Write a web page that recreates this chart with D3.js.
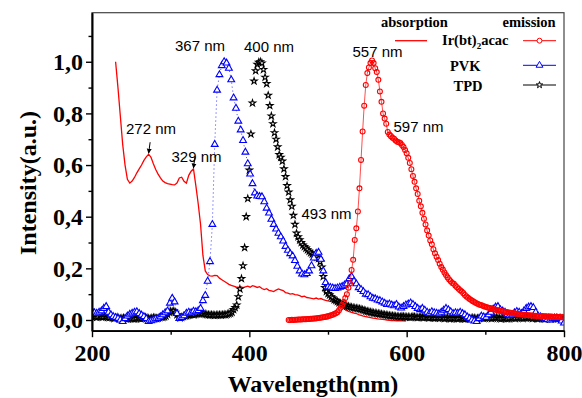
<!DOCTYPE html>
<html>
<head>
<meta charset="utf-8">
<script src="https://cdn.jsdelivr.net/npm/d3@7"></script>
<style>
  body { margin: 0; background: #fff; }
  svg { display: block; }
  .tick text { font-family: "Liberation Serif", "Times New Roman", serif; font-weight: bold; font-size: 24px; fill: #000; }
  .ann { font-family: "Liberation Sans", Arial, sans-serif; font-size: 15px; fill: #000; }
  .leg { font-family: "Liberation Serif", "Times New Roman", serif; font-weight: bold; font-size: 14.5px; fill: #000; }
  .title { font-family: "Liberation Serif", "Times New Roman", serif; font-weight: bold; font-size: 24px; fill: #000; }
</style>
</head>
<body>
<svg id="chart" width="582" height="398"></svg>
<script>
// absorption of Ir(bt)2acac, 230..599 nm every 3 nm
let absStart = 230, absStep = 3;
let absValues = [
  1.00, 0.90, 0.79, 0.68, 0.60, 0.545, 0.53, 0.538, 0.552, 0.57,
  0.585, 0.60, 0.618, 0.632, 0.642, 0.63, 0.605, 0.583, 0.565, 0.55,
  0.538, 0.532, 0.528, 0.526, 0.524, 0.523, 0.53, 0.55, 0.553, 0.537,
  0.53, 0.56, 0.576, 0.585, 0.52, 0.45, 0.37, 0.25, 0.19, 0.176,
  0.171, 0.17, 0.173, 0.172, 0.162, 0.156, 0.15, 0.144, 0.138, 0.134,
  0.131, 0.128, 0.126, 0.129, 0.125, 0.128, 0.131, 0.127, 0.133, 0.13,
  0.126, 0.129, 0.122, 0.118, 0.121, 0.115, 0.113, 0.11, 0.116, 0.12,
  0.117, 0.114, 0.106, 0.104, 0.10, 0.102, 0.098, 0.097, 0.094, 0.09,
  0.092, 0.087, 0.086, 0.084, 0.082, 0.085, 0.081, 0.083, 0.079, 0.076,
  0.074, 0.072, 0.07, 0.066, 0.061, 0.056, 0.05, 0.042, 0.036, 0.032,
  0.029, 0.027, 0.025, 0.021, 0.018, 0.015, 0.013, 0.011, 0.009, 0.007,
  0.006, 0.004, 0.003, 0.002, 0.001, 0.0, -0.001, -0.002, -0.002, -0.003,
  -0.002, -0.003, -0.003, -0.004
];

// emission of PVK, 200..800 nm every 3 nm
let pvkStart = 200, pvkStep = 3;
let pvkValues = [
  0.035, 0.028, 0.026, 0.03, 0.035, 0.045, 0.052, 0.03, 0.02, 0.013,
  0.01, 0.006, 0.0, -0.006, 0.005, 0.015, 0.022, 0.026, 0.03, 0.032,
  0.025, 0.019, 0.013, 0.005, -0.006, -0.003, 0.0, 0.004, 0.006, 0.012,
  0.02, 0.028, 0.035, 0.065, 0.084, 0.07, 0.025, 0.006, 0.01, 0.016,
  0.026, 0.03, 0.028, 0.034, 0.032, 0.036, 0.045, 0.075, 0.095, 0.15,
  0.226, 0.37, 0.68, 0.89, 0.95, 0.985, 1.0, 0.995, 0.975, 0.93,
  0.86, 0.82, 0.77, 0.736, 0.695, 0.65, 0.605, 0.565, 0.528, 0.492,
  0.48, 0.478, 0.477, 0.458, 0.433, 0.414, 0.39, 0.37, 0.352, 0.336,
  0.322, 0.306, 0.285, 0.27, 0.257, 0.248, 0.23, 0.208, 0.19, 0.178,
  0.175, 0.18, 0.19, 0.21, 0.24, 0.258, 0.262, 0.235, 0.19, 0.145,
  0.128, 0.126, 0.124, 0.122, 0.124, 0.127, 0.13, 0.135, 0.14, 0.16,
  0.168, 0.15, 0.14, 0.125, 0.118, 0.11, 0.10, 0.098, 0.09, 0.084,
  0.082, 0.077, 0.075, 0.07, 0.065, 0.06, 0.062, 0.058, 0.055, 0.06,
  0.05, 0.046, 0.052, 0.058, 0.062, 0.066, 0.06, 0.052, 0.045, 0.04,
  0.045, 0.038, 0.03, 0.026, 0.032, 0.028, 0.026, 0.024, 0.03, 0.038,
  0.045, 0.04, 0.032, 0.025, 0.028, 0.026, 0.03, 0.025, 0.02, 0.012,
  0.006, 0.0, -0.004, -0.006, 0.005, 0.015, 0.012, 0.01, 0.02, 0.03,
  0.042, 0.05, 0.052, 0.04, 0.035, 0.03, 0.022, 0.018, 0.02, 0.028,
  0.033, 0.03, 0.025, 0.035, 0.045, 0.05, 0.052, 0.048, 0.03, 0.015,
  0.012, 0.008, 0.006, 0.002, 0.0, 0.004, 0.006, 0.008, 0.005, -0.004,
  -0.012
];

// emission of TPD, 200..800 nm every 2 nm
let tpdStart = 200, tpdStep = 2;
let tpdValues = [
  0.012, 0.014, 0.012, 0.010, 0.013, 0.015, 0.012, 0.011, 0.013, 0.012,
  0.010, 0.009, 0.011, 0.008, 0.006, 0.008, 0.010, 0.007, 0.005, 0.006,
  0.008, 0.006, 0.004, 0.005, 0.007, 0.006, 0.005, 0.004, 0.006, 0.008,
  0.007, 0.005, 0.006, 0.008, 0.010, 0.008, 0.006, 0.005, 0.007, 0.009,
  0.008, 0.006, 0.007, 0.009, 0.011, 0.010, 0.012, 0.015, 0.022, 0.030,
  0.034, 0.032, 0.035, 0.030, 0.020, 0.012, 0.008, 0.010, 0.013, 0.015,
  0.016, 0.018, 0.020, 0.022, 0.021, 0.020, 0.022, 0.024, 0.025, 0.026,
  0.025, 0.024, 0.022, 0.021, 0.020, 0.019, 0.020, 0.019, 0.018, 0.019,
  0.019, 0.020, 0.019, 0.020, 0.021, 0.020, 0.022, 0.024, 0.026, 0.030,
  0.040, 0.048, 0.058, 0.090, 0.120, 0.160, 0.210, 0.280, 0.400, 0.470,
  0.580, 0.720, 0.840, 0.925, 0.965, 0.990, 0.998, 1.000, 0.995, 0.970,
  0.940, 0.915, 0.870, 0.830, 0.790, 0.760, 0.725, 0.700, 0.670, 0.640,
  0.630, 0.615, 0.585, 0.555, 0.520, 0.495, 0.465, 0.440, 0.405, 0.370,
  0.336, 0.322, 0.310, 0.300, 0.290, 0.284, 0.278, 0.272, 0.266, 0.260,
  0.255, 0.250, 0.247, 0.243, 0.238, 0.225, 0.205, 0.168, 0.125, 0.110,
  0.102, 0.097, 0.090, 0.085, 0.078, 0.075, 0.071, 0.067, 0.064, 0.061,
  0.059, 0.056, 0.054, 0.052, 0.050, 0.049, 0.047, 0.046, 0.045, 0.044,
  0.043, 0.041, 0.039, 0.037, 0.035, 0.033, 0.032, 0.030, 0.029, 0.027,
  0.026, 0.025, 0.024, 0.023, 0.022, 0.021, 0.020, 0.019, 0.018, 0.017,
  0.016, 0.016, 0.015, 0.014, 0.013, 0.013, 0.012, 0.014, 0.013, 0.012,
  0.011, 0.012, 0.010, 0.011, 0.013, 0.012, 0.010, 0.009, 0.011, 0.012,
  0.010, 0.009, 0.011, 0.010, 0.008, 0.009, 0.010, 0.008, 0.007, 0.009,
  0.008, 0.007, 0.009, 0.008, 0.006, 0.007, 0.008, 0.006, 0.005, 0.007,
  0.006, 0.007, 0.005, 0.006, 0.008, 0.007, 0.005, 0.004, 0.006, 0.007,
  0.005, 0.006, 0.008, 0.007, 0.005, 0.006, 0.007, 0.009, 0.008, 0.006,
  0.007, 0.009, 0.010, 0.008, 0.006, 0.007, 0.009, 0.010, 0.008, 0.006,
  0.005, 0.007, 0.008, 0.006, 0.005, 0.006, 0.008, 0.009, 0.007, 0.006,
  0.008, 0.010, 0.009, 0.007, 0.006, 0.008, 0.010, 0.011, 0.009, 0.007,
  0.006, 0.008, 0.007, 0.005, 0.006, 0.008, 0.007, 0.005, 0.004, 0.006,
  0.007, 0.005, 0.004, 0.006, 0.008, 0.007, 0.005, 0.006, 0.007, 0.005,
  0.004
];

// emission of Ir(bt)2acac, 450..800 nm every 2 nm
let irStart = 450, irStep = 2;
let irValues = [
  0.0, 0.0, 0.001, 0.0, 0.001, 0.001, 0.002, 0.002, 0.002, 0.003,
  0.003, 0.003, 0.004, 0.004, 0.005, 0.005, 0.006, 0.006, 0.007, 0.008,
  0.009, 0.01, 0.011, 0.012, 0.013, 0.014, 0.016, 0.018, 0.02, 0.023,
  0.026, 0.03, 0.038, 0.047, 0.058, 0.07, 0.085, 0.10, 0.125, 0.142,
  0.194, 0.233, 0.31, 0.355, 0.42, 0.51, 0.62, 0.73, 0.83, 0.91,
  0.956, 0.978, 0.995, 1.005, 0.995, 0.975, 0.96, 0.93, 0.885, 0.845,
  0.80, 0.78, 0.76, 0.728, 0.718, 0.712, 0.706, 0.702, 0.695, 0.69,
  0.688, 0.685, 0.678, 0.67, 0.658, 0.646, 0.628, 0.608, 0.584, 0.558,
  0.535, 0.51, 0.488, 0.462, 0.44, 0.415, 0.392, 0.37, 0.347, 0.327,
  0.308, 0.293, 0.274, 0.258, 0.245, 0.232, 0.218, 0.205, 0.195, 0.184,
  0.174, 0.165, 0.157, 0.15, 0.143, 0.14, 0.133, 0.127, 0.121, 0.115,
  0.11, 0.104, 0.097, 0.091, 0.086, 0.081, 0.077, 0.073, 0.07, 0.066,
  0.063, 0.06, 0.058, 0.056, 0.053, 0.051, 0.049, 0.047, 0.046, 0.044,
  0.042, 0.041, 0.039, 0.038, 0.036, 0.035, 0.034, 0.032, 0.031, 0.03,
  0.029, 0.028, 0.027, 0.026, 0.025, 0.024, 0.023, 0.022, 0.021, 0.02,
  0.02, 0.019, 0.018, 0.018, 0.017, 0.017, 0.016, 0.016, 0.015, 0.015,
  0.015, 0.014, 0.014, 0.014, 0.013, 0.013, 0.013, 0.013, 0.012, 0.012,
  0.012, 0.012, 0.012, 0.011, 0.011, 0.011
];

let xMajor = [200, 400, 600, 800];
let xMinor = [300, 500, 700];
let yMajor = [0, 0.2, 0.4, 0.6, 0.8, 1.0];
let yMinor = [0.1, 0.3, 0.5, 0.7, 0.9, 1.1];

let peaks = [
  {text: '272 nm', wl: 272, v: 0.642, arrow: true},
  {text: '329 nm', wl: 329, v: 0.585, arrow: true},
  {text: '367 nm', wl: 368, v: 1.0},
  {text: '400 nm', wl: 414, v: 1.0},
  {text: '557 nm', wl: 556, v: 1.005},
  {text: '597 nm', wl: 597, v: 0.67},
  {text: '493 nm', wl: 493, v: 0.24}
];

let toPoints = (start, step, values) => values.map((v, i) => ({wl: start + i * step, v: v}));

let svg = d3.select('#chart');
let plotLeft = 92, plotRight = 564, plotTop = 12.7, plotBottom = 330.7;

let x = d3.scaleLinear().domain([200, 800]).range([plotLeft, plotRight]);
let y = d3.scaleLinear().domain([-0.0415, 1.19]).range([plotBottom, plotTop]);

svg.append('rect').attr('width', 582).attr('height', 398).attr('fill', '#fff');

let defs = svg.append('defs');
defs.append('clipPath').attr('id', 'plot')
    .append('rect').attr('x', plotLeft).attr('y', plotTop)
    .attr('width', plotRight - plotLeft).attr('height', plotBottom - plotTop);

defs.append('marker')
    .attr('id', 'head').attr('viewBox', '0 0 10 10')
    .attr('refX', 9).attr('refY', 5)
    .attr('markerWidth', 5).attr('markerHeight', 6)
    .attr('orient', 'auto')
    .append('path').attr('d', 'M0,0L10,5L0,10z').attr('fill', '#000');

let plot = svg.append('g').attr('clip-path', 'url(#plot)');

let line = d3.line().x(d => x(d.wl)).y(d => y(d.v));

// absorption
plot.append('path')
    .datum(toPoints(absStart, absStep, absValues))
    .attr('d', line)
    .attr('fill', 'none').attr('stroke', '#ff0000').attr('stroke-width', 1.3);

let star = d3.symbol().type(d3.symbolStar).size(13);
let tri = d3.symbol().type(d3.symbolTriangle).size(20);
let circ = d3.symbol().type(d3.symbolCircle).size(19);

// TPD
plot.append('g').selectAll('path')
    .data(toPoints(tpdStart, tpdStep, tpdValues))
    .enter().append('path')
    .attr('d', star)
    .attr('transform', d => `translate(${x(d.wl)},${y(d.v)})`)
    .attr('fill', '#fff').attr('stroke', '#000').attr('stroke-width', 1.1);

// PVK
let pvk = toPoints(pvkStart, pvkStep, pvkValues);
plot.append('path').datum(pvk).attr('d', line)
    .attr('fill', 'none').attr('stroke', '#0000ff').attr('stroke-width', 0.8)
    .attr('stroke-dasharray', '1,3');
plot.append('g').selectAll('path')
    .data(pvk)
    .enter().append('path')
    .attr('d', tri)
    .attr('transform', d => `translate(${x(d.wl)},${y(d.v)})`)
    .attr('fill', '#fff').attr('stroke', '#0000ff').attr('stroke-width', 1.1);

// Ir(bt)2acac emission
let ir = toPoints(irStart, irStep, irValues);
plot.append('path').datum(ir).attr('d', line)
    .attr('fill', 'none').attr('stroke', '#ff0000').attr('stroke-width', 0.7);
plot.append('g').selectAll('path')
    .data(ir)
    .enter().append('path')
    .attr('d', circ)
    .attr('transform', d => `translate(${x(d.wl)},${y(d.v)})`)
    .attr('fill', 'none').attr('stroke', '#ff0000').attr('stroke-width', 1.1);

// frame
svg.append('rect')
    .attr('x', plotLeft).attr('y', plotTop)
    .attr('width', plotRight - plotLeft).attr('height', plotBottom - plotTop)
    .attr('fill', 'none').attr('stroke', '#444').attr('stroke-width', 1.2);

// axes
let fmt = d => d3.format('.1f')(d).replace('.', ',');

svg.append('g').attr('transform', `translate(0,${plotBottom})`)
    .call(d3.axisBottom(x).tickValues(xMajor).tickSize(6.5).tickSizeOuter(0).tickPadding(7));
svg.append('g').attr('transform', `translate(0,${plotBottom})`)
    .call(d3.axisBottom(x).tickValues(xMinor).tickSize(4).tickSizeOuter(0).tickFormat(''));

svg.append('g').attr('transform', `translate(${plotLeft},0)`)
    .call(d3.axisLeft(y).tickValues(yMajor).tickSize(6).tickSizeOuter(0).tickPadding(3).tickFormat(fmt));
svg.append('g').attr('transform', `translate(${plotLeft},0)`)
    .call(d3.axisLeft(y).tickValues(yMinor).tickSize(3.5).tickSizeOuter(0).tickFormat(''));

svg.selectAll('.domain').attr('stroke', '#000').attr('stroke-width', 1.6);
svg.selectAll('.tick line').attr('stroke', '#000').attr('stroke-width', 1.4);

svg.append('text').attr('class', 'title')
    .attr('x', 313).attr('y', 392).attr('text-anchor', 'middle')
    .text('Wavelength(nm)');
svg.append('text').attr('class', 'title')
    .attr('transform', 'translate(36,183) rotate(-90)')
    .attr('text-anchor', 'middle')
    .text('Intensity(a.u.)');

// peak labels
let labelPos = {
  '272 nm': [126, 133.5], '329 nm': [171.5, 161.5], '367 nm': [175, 51],
  '400 nm': [244, 51.5], '557 nm': [352.5, 56.5], '597 nm': [393.5, 131.5],
  '493 nm': [301.5, 218.5]
};
svg.selectAll('text.ann').data(peaks).enter().append('text')
    .attr('class', 'ann')
    .attr('x', d => labelPos[d.text][0]).attr('y', d => labelPos[d.text][1])
    .text(d => d.text);

svg.selectAll('line.arrow').data(peaks.filter(d => d.arrow)).enter().append('line')
    .attr('class', 'arrow')
    .attr('x1', d => x(d.wl) + 1.5).attr('y1', d => y(d.v) - 12)
    .attr('x2', d => x(d.wl)).attr('y2', d => y(d.v) - 1)
    .attr('stroke', '#000').attr('stroke-width', 1)
    .attr('marker-end', 'url(#head)');

// legend
let leg = svg.append('g');
leg.append('text').attr('class', 'leg').attr('x', 381).attr('y', 26.5).text('absorption');
leg.append('text').attr('class', 'leg').attr('x', 502.5).attr('y', 26.5).text('emission');
let irLabel = leg.append('text').attr('class', 'leg').attr('x', 442).attr('y', 45);
irLabel.append('tspan').text('Ir(bt)');
irLabel.append('tspan').attr('dy', 4).style('font-size', '9px').text('2');
irLabel.append('tspan').attr('dy', -4).text('acac');
leg.append('text').attr('class', 'leg').attr('x', 450).attr('y', 70.5).text('PVK');
leg.append('text').attr('class', 'leg').attr('x', 453.5).attr('y', 90.5).text('TPD');

leg.append('line').attr('x1', 395).attr('x2', 427).attr('y1', 40.7).attr('y2', 40.7)
    .attr('stroke', '#ff0000').attr('stroke-width', 1.3);

let legRows = [
  {y: 40.7, color: '#ff0000', sym: circ},
  {y: 65.3, color: '#0000ff', sym: tri},
  {y: 85, color: '#000', sym: star}
];
legRows.forEach(r => {
  leg.append('line').attr('x1', 523).attr('x2', 556).attr('y1', r.y).attr('y2', r.y)
      .attr('stroke', r.color).attr('stroke-width', 1);
  leg.append('path').attr('d', r.sym).attr('transform', `translate(539.5,${r.y})`)
      .attr('fill', '#fff').attr('stroke', r.color).attr('stroke-width', 1);
});
</script>
</body>
</html>
